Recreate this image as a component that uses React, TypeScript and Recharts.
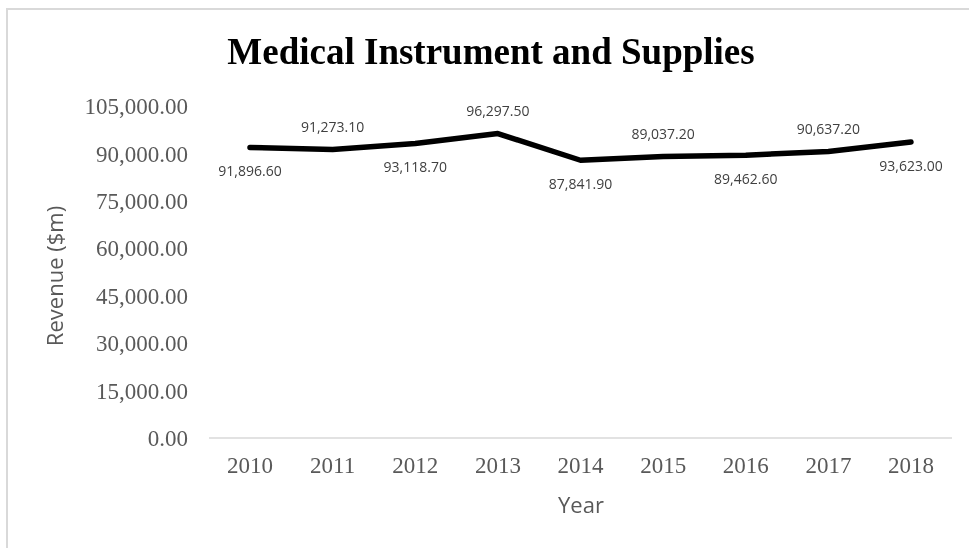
import React from 'react';
import { LineChart, Line, XAxis, YAxis, LabelList } from 'recharts';

const years = ['2010', '2011', '2012', '2013', '2014', '2015', '2016', '2017', '2018'];
const revenue = [91896.6, 91273.1, 93118.7, 96297.5, 87841.9, 89037.2, 89462.6, 90637.2, 93623.0];
const yTicks = [0, 15000, 30000, 45000, 60000, 75000, 90000, 105000];

const data = years.map((year, i) => ({ year, revenue: revenue[i] }));

const fmt = (v: number) =>
  v.toLocaleString('en-US', { minimumFractionDigits: 2, maximumFractionDigits: 2 });

const serif = '"Liberation Serif", "Times New Roman", serif';
const sans = '"Open Sans", "Noto Sans", sans-serif';

// labels alternate: even index below the line, odd index above
const PointLabel = (props: any) => {
  const { x, y, index, value } = props;
  const above = index % 2 === 1;
  return (
    <text
      x={x}
      y={above ? y - 21 : y + 25}
      textAnchor="middle"
      dominantBaseline="middle"
      fontFamily={sans}
      fontSize={14}
      fill="#404040"
    >
      {fmt(value)}
    </text>
  );
};

export default function App() {
  return (
    <div style={{ position: 'relative', width: 953, height: 532 }}>
      {/* chart frame, runs off the right and bottom of the page */}
      <div
        style={{
          position: 'fixed',
          left: 6,
          top: 8,
          width: 2000,
          height: 2000,
          borderTop: '2px solid #d9d9d9',
          borderLeft: '2px solid #d9d9d9',
          pointerEvents: 'none',
        }}
      />
      <div style={{ position: 'absolute', left: 0, top: 0 }}>
        <LineChart width={953} height={532} data={data} margin={{ top: 98, right: 9, bottom: 0, left: 0 }}>
          <text x={483} y={56} textAnchor="middle" fontFamily={serif} fontWeight="bold" fontSize={37} fill="#000">
            Medical Instrument and Supplies
          </text>
          <text
            x={49}
            y={268}
            transform="rotate(-90 49 268)"
            textAnchor="middle"
            dominantBaseline="middle"
            fontFamily={sans}
            fontSize={22}
            fill="#595959"
          >
            Revenue ($m)
          </text>
          <text x={573} y={505} textAnchor="middle" fontFamily={sans} fontSize={22} fill="#595959">
            Year
          </text>
          <XAxis
            dataKey="year"
            height={102}
            padding={{ left: 41, right: 41 }}
            axisLine={{ stroke: '#d9d9d9', strokeWidth: 1.5 }}
            tickLine={false}
            tickSize={6}
            tickMargin={13}
            tick={{ fontFamily: serif, fontSize: 23, fill: '#595959' }}
          />
          <YAxis
            width={201}
            domain={[0, 105000]}
            ticks={yTicks}
            axisLine={false}
            tickLine={false}
            tickSize={6}
            tickMargin={15}
            tickFormatter={fmt}
            tick={{ fontFamily: serif, fontSize: 23, fill: '#595959' }}
          />
          <Line
            type="linear"
            dataKey="revenue"
            stroke="#000"
            strokeWidth={5.5}
            strokeLinecap="round"
            strokeLinejoin="round"
            dot={false}
            isAnimationActive={false}
          >
            <LabelList dataKey="revenue" content={<PointLabel />} />
          </Line>
        </LineChart>
      </div>
    </div>
  );
}
